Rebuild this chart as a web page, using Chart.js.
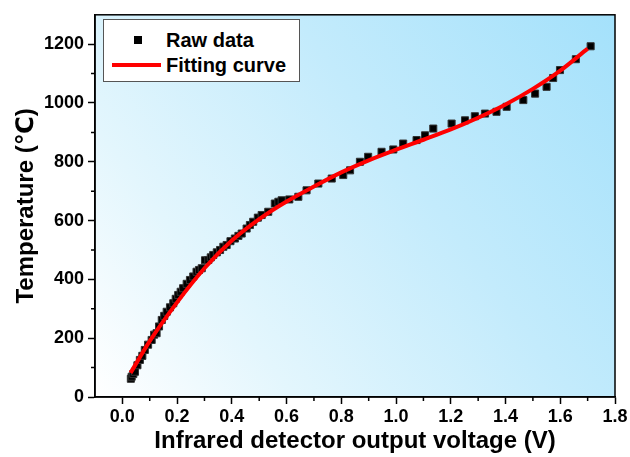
<!DOCTYPE html>
<html>
<head>
<meta charset="utf-8">
<script src="https://cdn.jsdelivr.net/npm/chart.js@4.4.0/dist/chart.umd.min.js"></script>
<style>
  html, body { margin: 0; padding: 0; background: #ffffff; }
  #wrap { position: relative; width: 630px; height: 457px; overflow: hidden; }
  #chart { position: absolute; left: 0; top: 0; }
  #legend {
    position: absolute; left: 103px; top: 19px; width: 197px; height: 63px;
    box-sizing: border-box; border: 1px solid #555; background: #ffffff;
    font: bold 20px "Liberation Sans", Arial, sans-serif; color: #000;
  }
  .item { position: absolute; left: 0; width: 100%; height: 24px; line-height: 24px; }
  .item .txt { position: absolute; left: 62px; top: 0; white-space: nowrap; }
  .item .mk { position: absolute; }
</style>
</head>
<body>
<div id="wrap">
  <canvas id="chart" width="630" height="457"></canvas>
  <div id="legend"></div>
</div>
<script>
// ---- Data ----
const rawVoltage = [0.031, 0.034, 0.040, 0.046, 0.055, 0.064, 0.073, 0.082, 0.094, 0.107,
  0.116, 0.125, 0.134, 0.144, 0.153, 0.162, 0.174, 0.186, 0.195, 0.204,
  0.213, 0.222, 0.235, 0.247, 0.259, 0.271, 0.280, 0.290, 0.302, 0.314,
  0.323, 0.332, 0.345, 0.357, 0.369, 0.381, 0.395, 0.411, 0.424, 0.436,
  0.454, 0.466, 0.478, 0.495, 0.509, 0.533, 0.557, 0.570, 0.582, 0.610,
  0.643, 0.673, 0.716, 0.765, 0.807, 0.832, 0.868, 0.898, 0.947, 0.990,
  1.026, 1.075, 1.106, 1.136, 1.203, 1.252, 1.288, 1.325, 1.367, 1.404,
  1.465, 1.508, 1.550, 1.574, 1.599, 1.657, 1.711];
const rawTemperature = [62, 69, 78, 86, 108, 126, 140, 160, 178, 194,
  212, 217, 240, 262, 276, 290, 305, 319, 334, 347,
  358, 370, 385, 398, 410, 426, 432, 438, 465, 466,
  475, 483, 492, 500, 511, 517, 530, 539, 548, 556,
  573, 585, 596, 610, 619, 630, 658, 664, 669, 672,
  681, 703, 726, 743, 755, 771, 800, 817, 834, 842,
  862, 874, 890, 913, 930, 941, 955, 964, 970, 987,
  1010, 1032, 1055, 1085, 1112, 1149, 1193];

const fitVoltage = [0.03, 0.1, 0.2, 0.3, 0.4, 0.5, 0.6, 0.7, 0.8, 0.9,
  1.0, 1.1, 1.2, 1.3, 1.4, 1.5, 1.6, 1.7];
const fitTemperature = [82, 190, 322, 438, 532, 605, 665, 716, 764, 805,
  841, 875, 910, 950, 995, 1048, 1110, 1185];

const xTickValues = [0.0, 0.2, 0.4, 0.6, 0.8, 1.0, 1.2, 1.4, 1.6, 1.8];
const xMinorTickValues = [0.1, 0.3, 0.5, 0.7, 0.9, 1.1, 1.3, 1.5, 1.7];
const yTickValues = [0, 200, 400, 600, 800, 1000, 1200];
const yMinorTickValues = [100, 300, 500, 700, 900, 1100];

const xTitle = 'Infrared detector output voltage (V)';
const yTitle = 'Temperature (\u2103)';
const seriesNames = ['Raw data', 'Fitting curve'];

// ---- Chart ----
const FONT = '"Liberation Sans", Arial, "DejaVu Sans", sans-serif';

const bgPlugin = {
  id: 'bgGradient',
  beforeDraw(chart) {
    const { ctx, chartArea: a } = chart;
    const g = ctx.createLinearGradient(a.left, a.bottom, a.right, a.top);
    g.addColorStop(0, '#ffffff');
    g.addColorStop(0.25, '#e3f6fd');
    g.addColorStop(0.6, '#c3ebfc');
    g.addColorStop(1, '#a4e1fb');
    ctx.save();
    ctx.fillStyle = g;
    ctx.fillRect(a.left, a.top, a.right - a.left, a.bottom - a.top);
    ctx.restore();
  }
};

const framePlugin = {
  id: 'frameMinor',
  afterDraw(chart) {
    const { ctx, chartArea: a, scales } = chart;
    ctx.save();
    ctx.strokeStyle = '#000';
    ctx.lineWidth = 1.5;
    ctx.strokeRect(a.left, a.top, a.right - a.left, a.bottom - a.top);
    ctx.beginPath();
    xMinorTickValues.forEach(v => {
      const px = scales.x.getPixelForValue(v);
      ctx.moveTo(px, a.bottom);
      ctx.lineTo(px, a.bottom + 4);
    });
    yMinorTickValues.forEach(v => {
      const py = scales.y.getPixelForValue(v);
      ctx.moveTo(a.left, py);
      ctx.lineTo(a.left - 4, py);
    });
    ctx.stroke();
    ctx.restore();
  }
};

const ctx = document.getElementById('chart').getContext('2d');
const chart = new Chart(ctx, {
  type: 'scatter',
  data: {
    datasets: [
      {
        label: seriesNames[0],
        data: rawVoltage.map((v, i) => ({ x: v, y: rawTemperature[i] })),
        pointStyle: 'rect',
        pointRadius: 5,
        pointBackgroundColor: '#000000',
        pointBorderColor: '#333333',
        pointBorderWidth: 1,
        showLine: false,
        order: 1
      },
      {
        label: seriesNames[1],
        data: fitVoltage.map((v, i) => ({ x: v, y: fitTemperature[i] })),
        showLine: true,
        borderColor: '#ff0000',
        backgroundColor: '#ff0000',
        borderWidth: 4,
        pointRadius: 0,
        cubicInterpolationMode: 'monotone',
        fill: false,
        order: 0
      }
    ]
  },
  options: {
    responsive: false,
    animation: false,
    devicePixelRatio: 1,
    layout: { padding: { top: 13, right: 15, left: 0, bottom: 0 } },
    plugins: { legend: { display: false }, tooltip: { enabled: false } },
    scales: {
      x: {
        type: 'linear', min: -0.1, max: 1.8,
        afterBuildTicks: s => { s.ticks = xTickValues.map(v => ({ value: v })); },
        afterFit: s => { s.height = 60; },
        grid: { drawOnChartArea: false, drawTicks: true, tickLength: 7, tickColor: '#000', tickWidth: 1.5 },
        border: { display: true, color: '#000', width: 1.5 },
        ticks: {
          color: '#000', padding: 2, maxRotation: 0, autoSkip: false,
          font: { family: FONT, size: 18, weight: 'bold' },
          callback: v => Number(v).toFixed(1)
        },
        title: {
          display: true, text: xTitle, color: '#000',
          font: { family: FONT, size: 24, weight: 'bold' },
          padding: { top: 0, bottom: 1 }
        }
      },
      y: {
        type: 'linear', min: 0, max: 1300,
        afterBuildTicks: s => { s.ticks = yTickValues.map(v => ({ value: v })); },
        afterFit: s => { s.width = 95; },
        grid: { drawOnChartArea: false, drawTicks: true, tickLength: 7, tickColor: '#000', tickWidth: 1.5 },
        border: { display: true, color: '#000', width: 1.5 },
        ticks: {
          color: '#000', padding: 4, autoSkip: false,
          font: { family: FONT, size: 18, weight: 'bold' },
          callback: v => String(v)
        },
        title: {
          display: true, text: yTitle, color: '#000',
          font: { family: FONT, size: 24, weight: 'bold' },
          padding: { top: 12, bottom: 0 }
        }
      }
    }
  },
  plugins: [bgPlugin, framePlugin]
});

// ---- HTML legend built from the datasets ----
const legend = document.getElementById('legend');
const rowCenters = [20, 45];
chart.data.datasets.forEach((ds, i) => {
  const item = document.createElement('div');
  item.className = 'item';
  item.style.top = (rowCenters[i] - 12) + 'px';
  const mk = document.createElement('div');
  mk.className = 'mk';
  if (ds.showLine) {
    mk.style.left = '8px'; mk.style.top = '10px';
    mk.style.width = '49px'; mk.style.height = '4px';
    mk.style.background = ds.borderColor;
  } else {
    mk.style.left = '30px'; mk.style.top = '8px';
    mk.style.width = '8px'; mk.style.height = '8px';
    mk.style.background = ds.pointBackgroundColor;
  }
  const txt = document.createElement('span');
  txt.className = 'txt';
  txt.textContent = ds.label;
  item.appendChild(mk);
  item.appendChild(txt);
  legend.appendChild(item);
});
</script>
</body>
</html>
